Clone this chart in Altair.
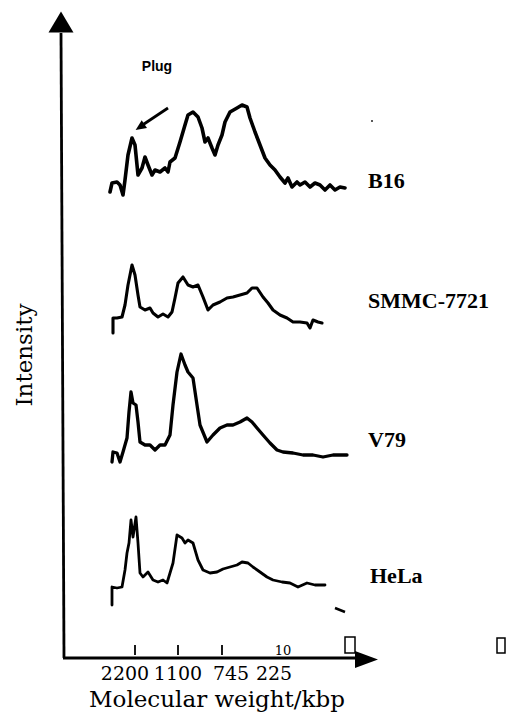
import altair as alt
import pandas as pd

# ---- data (x = migration distance, y = stacked intensity) ----
b16_x = [47, 49, 54, 57, 60, 62, 65, 69, 72, 75, 79, 82, 85, 89, 92, 97, 102, 105, 107, 112,
         117, 122, 125, 130, 135, 139, 142, 145, 149, 152, 155, 159, 162, 167, 174, 179, 184,
         187, 192, 197, 202, 207, 212, 217, 222, 225, 229, 234, 237, 242, 247, 252, 257, 262,
         267, 272, 277, 282]
b16_y = [466, 475, 476, 473, 463, 478, 503, 520, 513, 483, 490, 501, 493, 483, 488, 486, 490,
         486, 496, 500, 516, 533, 543, 546, 541, 530, 516, 520, 510, 503, 513, 523, 536, 546,
         550, 553, 551, 540, 526, 513, 500, 493, 488, 481, 475, 480, 471, 476, 473, 476, 471,
         475, 473, 468, 473, 468, 471, 470]

smmc_x = [50, 50, 54, 59, 62, 65, 69, 72, 75, 77, 82, 87, 90, 95, 100, 105, 109, 112, 115, 120,
          125, 130, 135, 140, 145, 150, 157, 164, 170, 177, 184, 189, 194, 200, 205, 210, 217,
          224, 230, 237, 244, 247, 250, 255, 259]
smmc_y = [325, 340, 340, 341, 353, 373, 393, 383, 363, 351, 348, 350, 345, 341, 344, 341, 346,
          360, 375, 381, 373, 371, 373, 361, 348, 353, 356, 360, 361, 363, 365, 370, 370, 361,
          355, 348, 343, 340, 336, 336, 335, 330, 338, 336, 335]

v79_x = [49, 50, 54, 57, 60, 64, 66, 68, 70, 73, 75, 77, 82, 87, 92, 97, 102, 107, 110, 114,
         118, 122, 125, 130, 134, 137, 144, 150, 157, 164, 170, 177, 184, 189, 194, 200, 207,
         214, 220, 230, 240, 250, 260, 270, 284]
v79_y = [196, 206, 205, 196, 206, 220, 246, 266, 255, 253, 236, 216, 213, 213, 208, 213, 213,
         223, 253, 286, 304, 293, 286, 280, 253, 233, 216, 223, 230, 233, 233, 236, 240, 236,
         230, 223, 215, 208, 206, 205, 203, 203, 201, 203, 203]

hela_x = [49, 49, 54, 59, 62, 64, 66, 68, 70, 73, 75, 77, 80, 85, 90, 95, 100, 104, 107, 110,
          114, 119, 122, 125, 130, 135, 140, 147, 154, 160, 167, 174, 179, 185, 190, 197, 204,
          210, 219, 227, 235, 244, 252, 262]
hela_y = [53, 71, 70, 71, 88, 105, 115, 138, 121, 141, 115, 85, 81, 86, 78, 76, 78, 75, 85, 95,
          123, 120, 115, 118, 115, 98, 88, 85, 86, 89, 91, 93, 96, 95, 91, 86, 81, 78, 76, 75,
          71, 75, 73, 73]

series_names = ["B16", "SMMC-7721", "V79", "HeLa"]
series_widths = [3.6, 3.1, 3.3, 2.8]
label_x = [305, 305, 305, 307]
label_y = [470, 350, 211, 75]

tick_pos = [72, 115, 159]
tick_labels = ["2200", "1100", "745", "225"]
tick_label_x = [62, 115, 168, 211]

# ---- tables ----
rows = []
for name, xs, ys in zip(series_names, [b16_x, smmc_x, v79_x, hela_x],
                        [b16_y, smmc_y, v79_y, hela_y]):
    for i, (a, b) in enumerate(zip(xs, ys)):
        rows.append({"series": name, "x": a, "y": b, "order": i})
traces = pd.DataFrame(rows)

labels = pd.DataFrame({"name": series_names, "x": label_x, "y": label_y})
ticks = pd.DataFrame({"x": tick_pos, "y": [3] * 3, "y2": [13] * 3})
ticklab = pd.DataFrame({"t": tick_labels, "x": tick_label_x, "y": [-22] * 4})

X = alt.Scale(domain=[-63, 448], nice=False, zero=False)
Y = alt.Scale(domain=[-54, 658], nice=False, zero=False)


def xq(f="x"):
    return alt.X(f"{f}:Q", scale=X, axis=None)


def yq(f="y"):
    return alt.Y(f"{f}:Q", scale=Y, axis=None)


layers = []
for name, w in zip(series_names, series_widths):
    layers.append(
        alt.Chart(traces[traces.series == name]).mark_line(
            color="black", strokeWidth=w, strokeJoin="round", strokeCap="round"
        ).encode(x=xq(), y=yq(), order="order:Q")
    )

layers.append(
    alt.Chart(labels).mark_text(
        font="Liberation Serif", fontWeight="bold", fontSize=22, align="left",
        baseline="alphabetic", color="black"
    ).encode(x=xq(), y=yq(), text="name:N")
)

# axes (hand-drawn style)
axes_lines = pd.DataFrame({"x": [-2, 0], "x2": [1, 295], "y": [625, 0], "y2": [0, 0]})
layers.append(
    alt.Chart(axes_lines).mark_rule(color="black", strokeWidth=2.8).encode(
        x=xq(), x2="x2:Q", y=yq(), y2="y2:Q")
)
layers.append(
    alt.Chart(pd.DataFrame({"x": [-2], "y": [636]})).mark_point(
        shape="M0,-1L1.19,1L-1.19,1Z", size=441, filled=True, color="black", opacity=1
    ).encode(x=xq(), y=yq())
)
layers.append(
    alt.Chart(pd.DataFrame({"x": [303.5], "y": [-1.5]})).mark_point(
        shape="M1,0L-1,-0.74L-1,0.74Z", size=529, filled=True, color="black", opacity=1
    ).encode(x=xq(), y=yq())
)
layers.append(
    alt.Chart(ticks).mark_rule(color="black", strokeWidth=1.8).encode(
        x=xq(), y=yq(), y2="y2:Q")
)
layers.append(
    alt.Chart(ticklab).mark_text(
        font="DejaVu Serif", fontSize=19, align="center", baseline="alphabetic", color="black"
    ).encode(x=xq(), y=yq(), text="t:N")
)
layers.append(
    alt.Chart(pd.DataFrame({"t": ["10"], "x": [220], "y": [3]})).mark_text(
        font="DejaVu Serif", fontSize=13, align="center", baseline="alphabetic", color="black"
    ).encode(x=xq(), y=yq(), text="t:N")
)
layers.append(
    alt.Chart(pd.DataFrame({"t": ["Molecular weight/kbp"], "x": [154], "y": [-49]})).mark_text(
        font="DejaVu Serif", fontSize=23, align="center", baseline="alphabetic", color="black"
    ).encode(x=xq(), y=yq(), text="t:N")
)
layers.append(
    alt.Chart(pd.DataFrame({"t": ["Intensity"], "x": [-38], "y": [303]})).mark_text(
        font="DejaVu Serif", fontSize=23, align="center", baseline="middle", angle=270,
        color="black"
    ).encode(x=xq(), y=yq(), text="t:N")
)

# "Plug" annotation with arrow
layers.append(
    alt.Chart(pd.DataFrame({"t": ["Plug"], "x": [94], "y": [587]})).mark_text(
        font="Liberation Sans", fontWeight="bold", fontSize=14, align="center",
        baseline="alphabetic", color="black"
    ).encode(x=xq(), y=yq(), text="t:N")
)
layers.append(
    alt.Chart(pd.DataFrame({"x": [105], "x2": [78], "y": [550], "y2": [532]})).mark_rule(
        color="black", strokeWidth=2.8).encode(x=xq(), x2="x2:Q", y=yq(), y2="y2:Q")
)
layers.append(
    alt.Chart(pd.DataFrame({"x": [77], "y": [531]})).mark_point(
        shape="M0,-1L0.9,1L-0.9,1Z", size=110, filled=True, color="black", opacity=1,
        angle=236
    ).encode(x=xq(), y=yq())
)

# scan artefacts: empty boxes, dash, dot
boxes = pd.DataFrame({"x": [282, 434], "x2": [292, 442], "y": [5, 5], "y2": [21, 20]})
layers.append(
    alt.Chart(boxes).mark_rect(fill="white", stroke="black", strokeWidth=1.5).encode(
        x=xq(), x2="x2:Q", y=yq(), y2="y2:Q")
)
layers.append(
    alt.Chart(pd.DataFrame({"x": [272], "x2": [282], "y": [50], "y2": [46]})).mark_rule(
        color="black", strokeWidth=2.5).encode(x=xq(), x2="x2:Q", y=yq(), y2="y2:Q")
)
layers.append(
    alt.Chart(pd.DataFrame({"x": [309], "y": [537]})).mark_point(
        shape="square", size=3, filled=True, color="black", opacity=1
    ).encode(x=xq(), y=yq())
)

chart = alt.layer(*layers).properties(
    width=511, height=712, padding=0, autosize=alt.AutoSizeParams(type="none"),
    background="white"
).configure_view(stroke=None)

chart.save("out.html", embed_options={"renderer": "svg", "actions": False})
